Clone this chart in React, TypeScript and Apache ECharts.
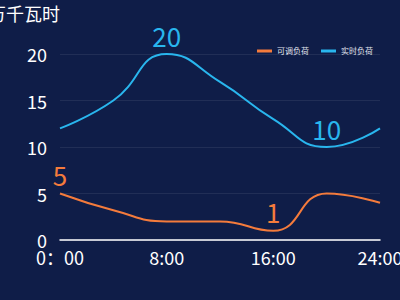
import React, { useEffect, useRef } from "react";
import * as echarts from "echarts";

const hours = ["0：00", "4:00", "8:00", "12:00", "16:00", "20:00", "24:00"];
const adjustable = [5, 3.2, 2, 2, 1, 5, 4];
const realtime = [12, 15, 20, 17, 13, 10, 12];
const adjustableLabelIdx = [0, 4];
const realtimeLabelIdx = [2, 5];
const yTicks = [0, 5, 10, 15, 20];

const ORANGE = "#f47b3c";
const BLUE = "#29b6ee";

export default function App() {
  const ref = useRef<HTMLDivElement>(null);
  useEffect(() => {
    const chart = echarts.init(ref.current!, null, { renderer: "svg" });
    const mk = (vals: number[], idx: number[], color: string) =>
      vals.map((v, i) => ({
        value: v,
        label: { show: idx.includes(i), color, fontSize: 26, position: "top", distance: 6 },
      }));
    chart.setOption({
      animation: false,
      backgroundColor: "#0f1d48",
      textStyle: { fontFamily: "Noto Sans CJK SC, Noto Sans, sans-serif" },
      legend: {
        top: 42,
        right: 22,
        icon: "rect",
        itemWidth: 15,
        itemHeight: 3,
        itemGap: 12,
        textStyle: { color: "#e0e4ee", fontSize: 8 },
        data: ["可调负荷", "实时负荷"],
      },
      grid: { left: 60, right: 20, top: 54, bottom: 60, outerBoundsMode: "none", containLabel: false },
      xAxis: {
        type: "category",
        data: hours,
        boundaryGap: false,
        axisLine: { lineStyle: { color: "#ffffff", width: 1.5 } },
        axisTick: { show: false },
        axisLabel: { color: "#ffffff", fontSize: 18, interval: 1, margin: 8 },
      },
      yAxis: {
        type: "value",
        min: yTicks[0],
        max: yTicks[yTicks.length - 1],
        interval: 5,
        name: "万千瓦时",
        nameGap: 32,
        nameTextStyle: { color: "#ffffff", fontSize: 18, align: "right" },
        axisLine: { show: false },
        axisTick: { show: false },
        axisLabel: { color: "#ffffff", fontSize: 18, margin: 13 },
        splitLine: { lineStyle: { color: "rgba(255,255,255,0.08)" } },
      },
      series: [
        {
          name: "可调负荷",
          type: "line",
          smooth: true,
          symbolSize: 0,
          showSymbol: true,
          lineStyle: { color: ORANGE, width: 2 },
          itemStyle: { color: ORANGE },
          data: mk(adjustable, adjustableLabelIdx, ORANGE),
        },
        {
          name: "实时负荷",
          type: "line",
          smooth: true,
          symbolSize: 0,
          showSymbol: true,
          lineStyle: { color: BLUE, width: 2 },
          itemStyle: { color: BLUE },
          data: mk(realtime, realtimeLabelIdx, BLUE),
        },
      ],
    });
    return () => chart.dispose();
  }, []);
  return <div ref={ref} style={{ width: 400, height: 300, position: "absolute", left: 0, top: 0 }} />;
}
